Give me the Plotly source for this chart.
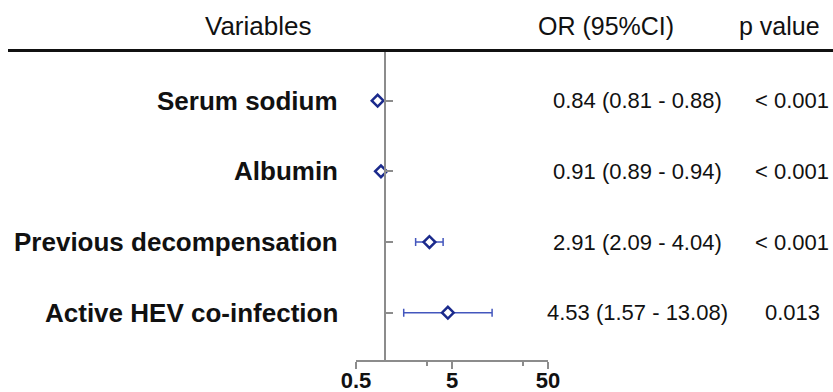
import math
import plotly.graph_objects as go

# ---- data ----
variables = ["Serum sodium", "Albumin", "Previous decompensation", "Active HEV co-infection"]
or_vals = [0.84, 0.91, 2.91, 4.53]
ci_low = [0.81, 0.89, 2.09, 1.57]
ci_high = [0.88, 0.94, 4.04, 13.08]
p_text = ["< 0.001", "< 0.001", "< 0.001", "0.013"]
row_pos = [4, 3, 2, 1]
x_ticks = [0.5, 5, 50]
x_ticktext = ["0.5", "5", "50"]
x_minor = [2.75, 27.5]
headers = ["Variables", "OR (95%CI)", "p value"]

# ---- layout geometry ----
W, H = 833, 392
L, R, T, B = 356, 285, 52, 32
pw, ph = W - L - R, H - T - B
xmin, xmax = min(x_ticks), max(x_ticks)
lrange = [math.log10(xmin), math.log10(xmax)]
ref_pos = (0 - lrange[0]) / (lrange[1] - lrange[0])


def px_x(px):
    return (px - L) / pw


def px_y(py):
    return (H - B - py) / ph


navy = "#1b2a8c"
barblue = "#4356bd"
gray = "#8c8c8c"
font = "Liberation Sans, Arial, sans-serif"

fig = go.Figure()
fig.add_trace(go.Scatter(
    x=or_vals, y=row_pos, mode="markers",
    marker=dict(symbol="diamond", size=9, color="white", line=dict(color=navy, width=2.5)),
    error_x=dict(type="data", symmetric=False,
                 array=[h - o for h, o in zip(ci_high, or_vals)],
                 arrayminus=[o - l for o, l in zip(or_vals, ci_low)],
                 color=barblue, thickness=1.5, width=4),
    showlegend=False, hoverinfo="skip", cliponaxis=False,
))

annotations = []
for v, o, lo, hi, p, y in zip(variables, or_vals, ci_low, ci_high, p_text, row_pos):
    annotations.append(dict(x=px_x(340), y=y, xref="paper", yref="y", text=v,
                            xanchor="right", yanchor="middle", showarrow=False,
                            font=dict(family=font, size=26, color="#111", weight="bold")))
    annotations.append(dict(x=px_x(637), y=y, xref="paper", yref="y",
                            text=f"{o:.2f} ({lo:.2f} - {hi:.2f})",
                            xanchor="center", yanchor="middle", showarrow=False,
                            font=dict(family=font, size=22, color="#111")))
    annotations.append(dict(x=px_x(792), y=y, xref="paper", yref="y", text=p,
                            xanchor="center", yanchor="middle", showarrow=False,
                            font=dict(family=font, size=22, color="#111")))

for txt, cx, fs in zip(headers, [258, 606, 779], [26, 25, 25]):
    annotations.append(dict(x=px_x(cx), y=px_y(26), xref="paper", yref="paper", text=txt,
                            xanchor="center", yanchor="middle", showarrow=False,
                            font=dict(family=font, size=fs, color="#111")))

fig.update_layout(
    template="none",
    width=W, height=H,
    margin=dict(l=L, r=R, t=T, b=B, pad=0, autoexpand=False),
    paper_bgcolor="white", plot_bgcolor="white",
    annotations=annotations,
    shapes=[dict(type="line", xref="paper", yref="paper",
                 x0=px_x(8), x1=px_x(833), y0=px_y(50.5), y1=px_y(50.5),
                 line=dict(color="#111", width=3))],
    xaxis=dict(type="log", range=lrange, autorange=False, automargin=False,
               showgrid=False, zeroline=False,
               showline=True, linecolor=gray, linewidth=2,
               tickmode="array", tickvals=x_ticks, ticktext=x_ticktext,
               ticks="outside", ticklen=7, tickwidth=2, tickcolor=gray,
               ticklabelstandoff=-7,
               tickfont=dict(family=font, size=22, color="#111", weight="bold"),
               minor=dict(tickvals=x_minor, ticks="outside", ticklen=4, tickwidth=1.5, tickcolor=gray,
                          showgrid=False)),
    yaxis=dict(range=[0.331, 4.689], autorange=False, automargin=False,
               anchor="free", position=ref_pos, side="right",
               showgrid=False, zeroline=False,
               showline=True, linecolor=gray, linewidth=2,
               tickmode="array", tickvals=row_pos, showticklabels=False,
               ticks="outside", ticklen=7, tickwidth=2, tickcolor=gray),
)

fig.write_html("out.html", config={"displayModeBar": False, "staticPlot": True},
               post_script="document.body.style.margin='0';document.body.style.overflow='hidden';")
